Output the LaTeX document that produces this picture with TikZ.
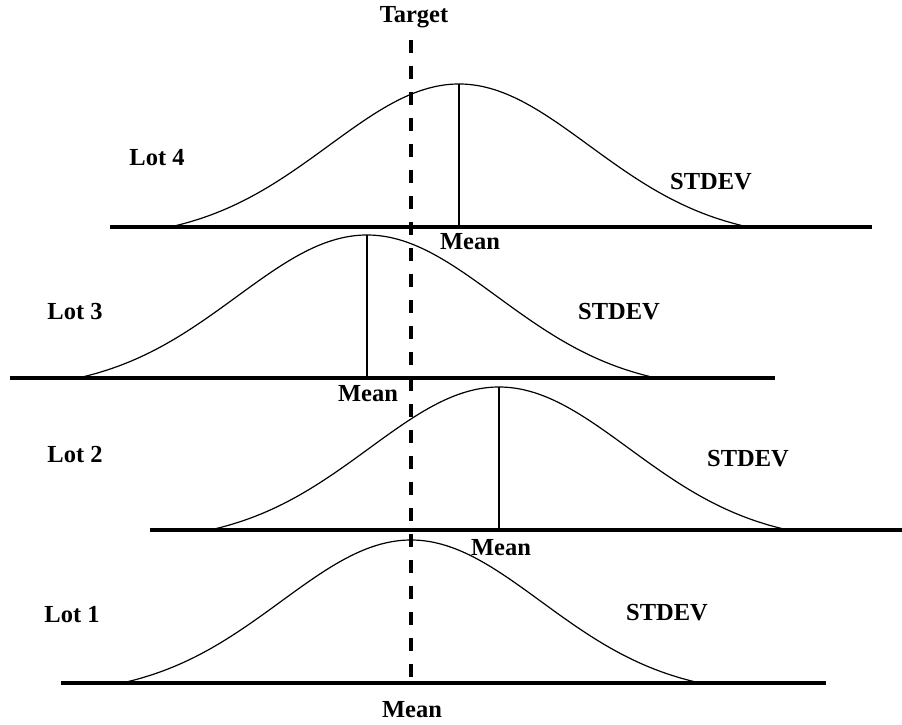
\documentclass[tikz,border=0pt]{standalone}
\usepackage{fontspec}
\setmainfont{Liberation Serif}
\begin{document}
\begin{tikzpicture}[x=1pt,y=-1pt,
  declare function={bell(\u)=(exp(-0.5*\u*\u)-0.0845)/(1-0.0845);},
  axisline/.style={line width=4pt},
  meanline/.style={line width=2.4pt},
  curve/.style={line width=1.2pt},
  targetline/.style={line width=3.6pt, dash pattern=on 13pt off 13pt},
  lbl/.style={font=\fontsize{24.5}{29}\selectfont\bfseries, inner sep=0pt}]
\useasboundingbox (0,0) rectangle (902,725);

% one normal curve per lot: lot / mean / axis height / axis start / axis end
\foreach \n/\m/\b/\xl/\xr in {4/459/227/110/872, 3/367/378/10/775,
                              2/499/530/150/902, 1/411/683/61/826} {
  \coordinate (axis\n-l) at (\xl,\b);
  \coordinate (axis\n-r) at (\xr,\b);
  \coordinate (foot\n) at (\m,\b);
  \coordinate (peak\n) at (\m,\b-143);
  \draw[axisline] (axis\n-l) -- (axis\n-r);
  \draw[curve] plot[domain=-2.223:2.223, samples=140, smooth]
    ({\m+130*\x}, {\b-143*bell(\x)});
}

% mean markers
\draw[meanline] (peak4) -- (foot4);
\draw[meanline] (peak3) -- (foot3);
\draw[meanline] (peak2) -- (foot2);

% target line
\coordinate (target-top) at (411,40);
\coordinate (target-bottom) at (411,683);
\draw[targetline] (target-top) -- (target-bottom);

% labels
\node[lbl] (target) at (414,17) {Target};

\node[lbl] (lot4) at (157,158) {Lot 4};
\node[lbl] (lot3) at (75,312) {Lot 3};
\node[lbl] (lot2) at (75,455) {Lot 2};
\node[lbl] (lot1) at (72,615) {Lot 1};

\node[lbl] (mean4) at (470,242) {Mean};
\node[lbl] (mean3) at (368,394) {Mean};
\node[lbl] (mean2) at (501,548) {Mean};
\node[lbl] (mean1) at (412,710) {Mean};

\node[lbl] (sd4) at (711,182) {STDEV};
\node[lbl] (sd3) at (619,312) {STDEV};
\node[lbl] (sd2) at (748,459) {STDEV};
\node[lbl] (sd1) at (667,613) {STDEV};
\end{tikzpicture}
\end{document}
